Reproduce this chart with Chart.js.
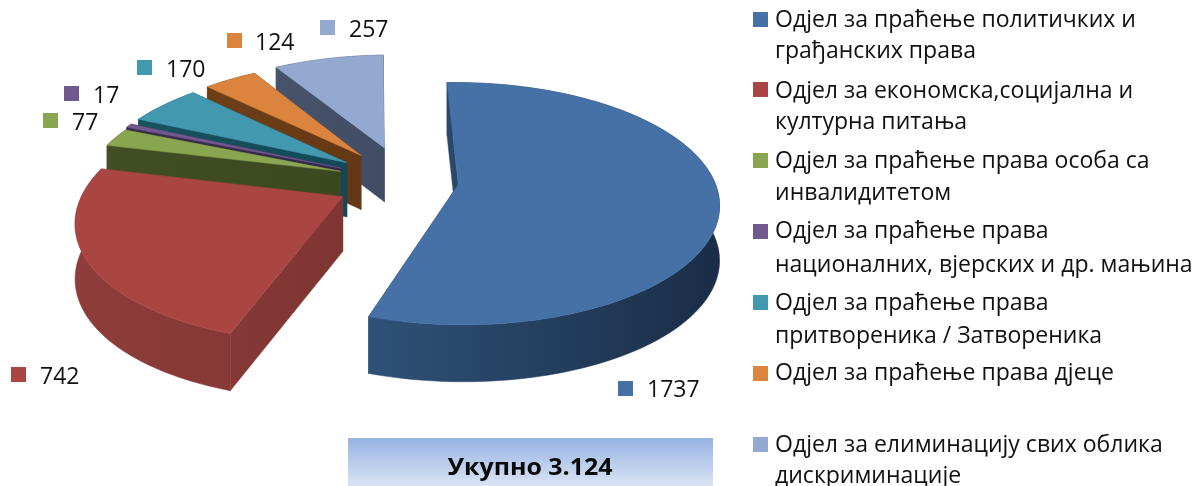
<!DOCTYPE html>
<html>
<head>
<meta charset="utf-8">
<style>html,body{margin:0;padding:0;background:#fff;overflow:hidden}canvas{display:block}</style>
<script src="https://cdn.jsdelivr.net/npm/chart.js@4/dist/chart.umd.js"></script>
</head>
<body>
<canvas id="c" width="1197" height="486"></canvas>
<script>
const categoryLines = [
  ["Одјел за праћење политичких и", "грађанских права"],
  ["Одјел за економска,социјална и", "културна питања"],
  ["Одјел за праћење права особа са", "инвалидитетом"],
  ["Одјел за праћење права", "националних, вјерских и др. мањина"],
  ["Одјел за праћење права", "притвореника / Затвореника"],
  ["Одјел за праћење права дјеце"],
  ["Одјел за елиминацију свих облика", "дискриминације"]
];
const values = [1737, 742, 77, 17, 170, 124, 257];
const totalLabel = "Укупно 3.124";

const topColors  = ["#4671A6", "#A94643", "#8AA54F", "#71588F", "#4198AF", "#DB843D", "#93A9CF"];
const wallLeft   = ["#2F5177", "#8E3D3A", "#414E24", "#3A2D4C", "#17525F", "#6E3F17", "#46536B"];
const wallRight  = ["#1A2D47", "#7F3532", "#3C4820", "#33284A", "#12485A", "#643814", "#414D65"];
const explode    = [0.21, 0.27, 0.27, 0.28, 0.285, 0.29, 0.31];

// value-label anchors: [square x, square y, text x, baseline y]
const valueAnchors = [[618,381,647,397],[11,367,40,384],[43,113,72,130],[64,86,93,103],[137,60,166,77],[227,33,255,50],[320,20,349,37]];
const legendTops = [12,82,153,224,295,366,437];
const legendBaselines = [[27,58],[98,129],[168,200],[238,272],[310,343],[380],[452,483]];

// plane-to-screen projection of the exploded 3D pie
const OX = 405, OY = 181, RX = 256, RY = 117, PERSP = 0.158, VX = 432;
function project(u, v) {
  const w = 1 / (1 - PERSP * v);
  return {x: VX + (OX - VX + RX * u) * w, y: OY + RY * v * w, d: 42 + 12.5 * w};
}

function poly(ctx, pts, fill) {
  ctx.beginPath();
  pts.forEach((p, i) => i ? ctx.lineTo(p.x, p.y) : ctx.moveTo(p.x, p.y));
  ctx.closePath();
  ctx.fillStyle = fill;
  ctx.fill();
  ctx.strokeStyle = fill;
  ctx.lineWidth = 0.5;
  ctx.stroke();
}
const down = p => ({x: p.x, y: p.y + p.d});

const pie3d = {
  id: 'pie3d',
  beforeDatasetsDraw(chart) {
    const ctx = chart.ctx;
    const arcs = chart.getDatasetMeta(0).data;
    const order = [6, 5, 4, 3, 2, 1, 0];
    ctx.save();
    order.forEach(i => {
      const a = arcs[i];
      const s = a.startAngle, e = a.endAngle, m = (s + e) / 2;
      const off = a.options.offset / RX;
      const au = off * Math.cos(m), av = off * Math.sin(m);
      const apex = project(au, av);
      const rim = [];
      const n = Math.max(6, Math.ceil((e - s) * 40));
      for (let k = 0; k <= n; k++) {
        const t = s + (e - s) * k / n;
        rim.push(project(au + Math.cos(t), av + Math.sin(t)));
      }
      const xs = rim.map(p => p.x).concat(apex.x);
      const g = ctx.createLinearGradient(Math.min(...xs), 0, Math.max(...xs), 0);
      g.addColorStop(0, wallLeft[i]);
      g.addColorStop(1, wallRight[i]);
      const first = rim[0], last = rim[rim.length - 1];
      poly(ctx, [apex, first, down(first), down(apex)], g);
      poly(ctx, [apex, last, down(last), down(apex)], g);
      poly(ctx, rim.concat(rim.map(down).reverse()), g);
      poly(ctx, [apex].concat(rim), topColors[i]);
    });
    ctx.restore();
    return false;
  },
  afterDraw(chart) {
    const ctx = chart.ctx;
    ctx.save();
    ctx.textBaseline = 'alphabetic';
    ctx.textAlign = 'left';
    ctx.fillStyle = '#111';

    // value labels
    ctx.font = '23px "Open Sans"';
    values.forEach((v, i) => {
      const [sx, sy, tx, ty] = valueAnchors[i];
      ctx.fillStyle = topColors[i];
      ctx.fillRect(sx, sy, 15, 15);
      ctx.fillStyle = '#111';
      ctx.fillText(String(v), tx, ty);
    });

    // legend
    ctx.font = '24px "Open Sans"';
    const squeeze = 361 / ctx.measureText(categoryLines[0][0]).width;
    categoryLines.forEach((lines, i) => {
      ctx.fillStyle = topColors[i];
      ctx.fillRect(753, legendTops[i], 15, 15);
      ctx.fillStyle = '#111';
      lines.forEach((line, j) => {
        ctx.save();
        ctx.translate(775, legendBaselines[i][j]);
        ctx.scale(squeeze, 1);
        ctx.fillText(line, 0, 0);
        ctx.restore();
      });
    });

    // total box
    const bg = ctx.createLinearGradient(0, 438, 0, 486);
    bg.addColorStop(0, '#97B4E3');
    bg.addColorStop(1, '#D9E3F4');
    ctx.fillStyle = bg;
    ctx.fillRect(348, 438, 365, 48);
    ctx.fillStyle = '#0A0A0A';
    ctx.font = 'bold 24px "Open Sans"';
    ctx.textAlign = 'center';
    const tw = ctx.measureText(totalLabel).width;
    ctx.translate(530, 475);
    ctx.scale(165 / tw, 1);
    ctx.fillText(totalLabel, 0, 0);
    ctx.restore();
  }
};

new Chart(document.getElementById('c'), {
  type: 'pie',
  data: {
    labels: categoryLines.map(l => l.join(' ')),
    datasets: [{
      data: values,
      backgroundColor: topColors,
      borderWidth: 0,
      offset: explode.map(f => f * RX)
    }]
  },
  options: {
    responsive: false,
    animation: false,
    events: [],
    rotation: -2,
    plugins: {legend: {display: false}, tooltip: {enabled: false}, title: {display: false}}
  },
  plugins: [pie3d]
});
</script>
</body>
</html>
